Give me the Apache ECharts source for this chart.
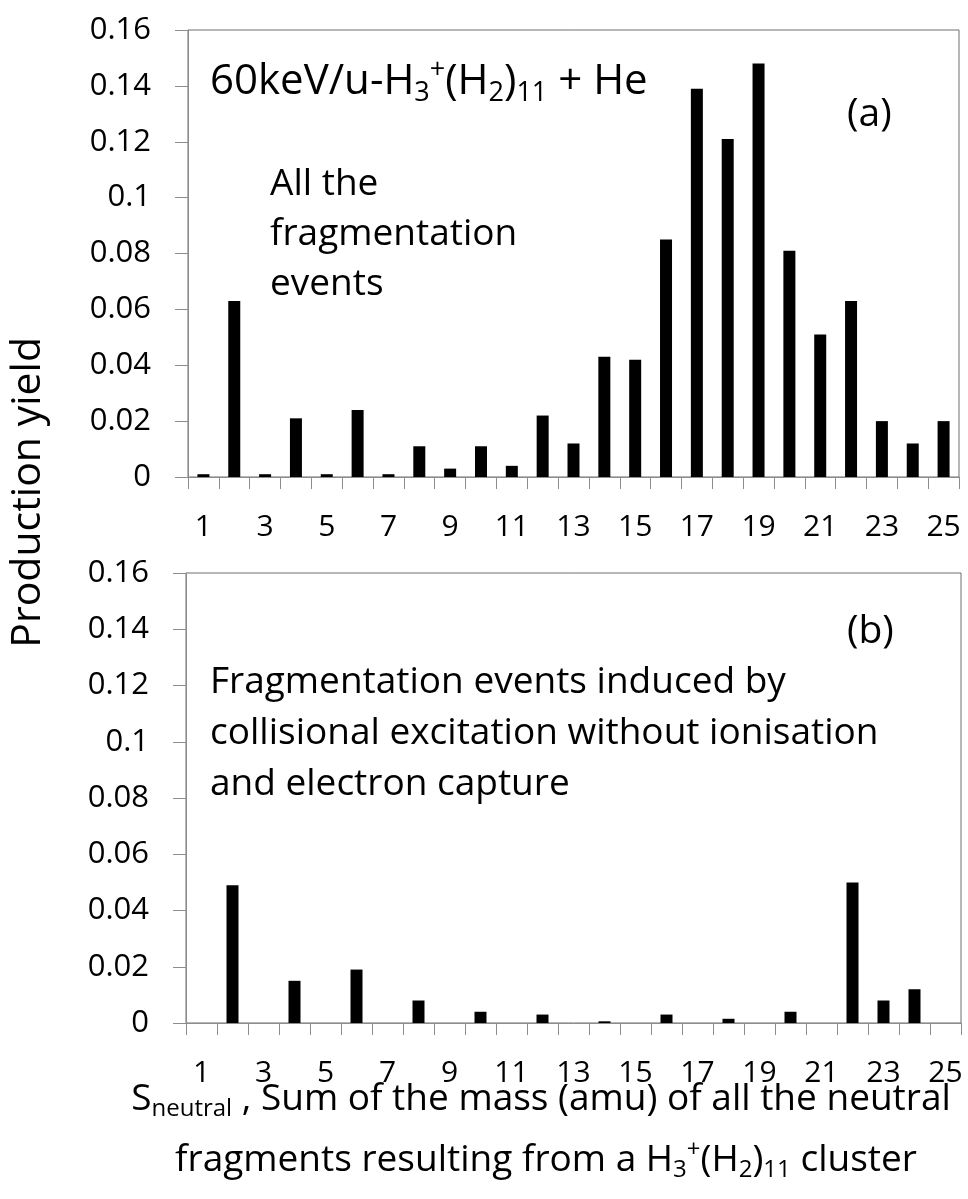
<!DOCTYPE html>
<html>
<head>
<meta charset="utf-8">
<script src="https://cdn.jsdelivr.net/npm/echarts@6.0.0/dist/echarts.min.js"></script>
<style>
  html, body { margin: 0; padding: 0; background: #fff; }
  #chart { width: 968px; height: 1199px; }
</style>
</head>
<body>
<div id="chart"></div>
<script>
// neutral fragment mass (amu), one category per mass
const massLabels = ['1', '2', '3', '4', '5', '6', '7', '8', '9', '10', '11', '12', '13',
  '14', '15', '16', '17', '18', '19', '20', '21', '22', '23', '24', '25']
// (a) all the fragmentation events
const allEvents = [0.001, 0.063, 0.001, 0.021, 0.001, 0.024, 0.001, 0.011, 0.003, 0.011,
  0.004, 0.022, 0.012, 0.043, 0.042, 0.085, 0.139, 0.121, 0.148, 0.081,
  0.051, 0.063, 0.020, 0.012, 0.020]
// (b) collisional excitation without ionisation and electron capture
const excitationOnly = [0, 0.049, 0, 0.015, 0, 0.019, 0, 0.008, 0, 0.004,
  0, 0.003, 0, 0.0006, 0, 0.003, 0, 0.0015, 0, 0.004,
  0, 0.050, 0.008, 0.012, 0]
// y axis range / step
const yMin = 0
const yMax = 0.16
const yStep = 0.02

const FONT = 'Open Sans'
const axisGray = '#8c8c8c'

// rich styles for sub/superscripts
function richStyles(size) {
  const small = Math.round(size * 0.64)
  return {
    m: { fontFamily: FONT, fontSize: size, lineHeight: Math.round(size * 1.2), verticalAlign: 'middle', color: '#000' },
    sub: { fontFamily: FONT, fontSize: small, lineHeight: small, verticalAlign: 'bottom', color: '#000' },
    sup: { fontFamily: FONT, fontSize: small, lineHeight: small, verticalAlign: 'top', color: '#000' }
  }
}

function xAxisFor(idx) {
  return {
    type: 'category',
    gridIndex: idx,
    data: massLabels,
    axisLine: { lineStyle: { color: axisGray, width: 1 } },
    axisTick: { show: true, interval: 0, length: 12, lineStyle: { color: axisGray } },
    axisLabel: { interval: 1, margin: 35, color: '#000', fontFamily: FONT, fontSize: 30 },
    splitLine: { show: false }
  }
}

function yAxisFor(idx) {
  return {
    type: 'value',
    gridIndex: idx,
    min: yMin,
    max: yMax,
    interval: yStep,
    axisLine: { show: true, lineStyle: { color: axisGray, width: 1 } },
    axisTick: { show: true, length: 13, lineStyle: { color: axisGray } },
    axisLabel: {
      margin: 37,
      color: '#000',
      fontFamily: FONT,
      fontSize: 31,
      hideOverlap: false,
      formatter: v => String(+v.toFixed(2))
    },
    splitLine: { show: false }
  }
}

const chart = echarts.init(document.getElementById('chart'), null, { renderer: 'canvas' })

const option = {
  backgroundColor: '#fff',
  animation: false,
  grid: [
    { left: 188, right: 9, top: 30, height: 447, containLabel: false, outerBoundsMode: 'none', show: true, borderColor: '#6e6e6e', borderWidth: 1 },
    { left: 186, right: 7, top: 573, height: 450, containLabel: false, outerBoundsMode: 'none', show: true, borderColor: '#6e6e6e', borderWidth: 1 }
  ],
  xAxis: [xAxisFor(0), xAxisFor(1)],
  yAxis: [yAxisFor(0), yAxisFor(1)],
  series: [
    { type: 'bar', xAxisIndex: 0, yAxisIndex: 0, data: allEvents, barWidth: 12, itemStyle: { color: '#000' } },
    { type: 'bar', xAxisIndex: 1, yAxisIndex: 1, data: excitationOnly, barWidth: 12, itemStyle: { color: '#000' } }
  ],
  graphic: [
    {
      type: 'text', left: 8, top: 337, rotation: Math.PI / 2,
      style: { text: 'Production yield', fontFamily: FONT, fontSize: 41, fill: '#000' }
    },
    {
      type: 'text', x: 210, y: 82,
      style: {
        text: '{m|60keV/u-H}{sub|3}{sup|+}{m|(H}{sub|2}{m|)}{sub|11}{m| + He}',
        rich: richStyles(42), verticalAlign: 'middle'
      }
    },
    {
      type: 'text', x: 847, y: 115,
      style: { text: '(a)', fontFamily: FONT, fontSize: 39, fill: '#000', verticalAlign: 'middle' }
    },
    {
      type: 'text', x: 270, y: 234,
      style: {
        text: 'All the\nfragmentation\nevents',
        fontFamily: FONT, fontSize: 37, lineHeight: 50, fill: '#000', verticalAlign: 'middle'
      }
    },
    {
      type: 'text', x: 847, y: 632,
      style: { text: '(b)', fontFamily: FONT, fontSize: 39, fill: '#000', verticalAlign: 'middle' }
    },
    {
      type: 'text', x: 210, y: 733,
      style: {
        text: 'Fragmentation events induced by\ncollisional excitation without ionisation\nand electron capture',
        fontFamily: FONT, fontSize: 37, lineHeight: 51, fill: '#000', verticalAlign: 'middle'
      }
    },
    {
      type: 'text', x: 541, y: 1099,
      style: {
        text: '{m|S}{sub|neutral}{m| , Sum of the mass (amu) of all the neutral}',
        rich: richStyles(37), align: 'center', verticalAlign: 'middle'
      }
    },
    {
      type: 'text', x: 546, y: 1160,
      style: {
        text: '{m|fragments resulting from a H}{sub|3}{sup|+}{m|(H}{sub|2}{m|)}{sub|11}{m| cluster}',
        rich: richStyles(37), align: 'center', verticalAlign: 'middle'
      }
    }
  ]
}

chart.setOption(option)
</script>
</body>
</html>
